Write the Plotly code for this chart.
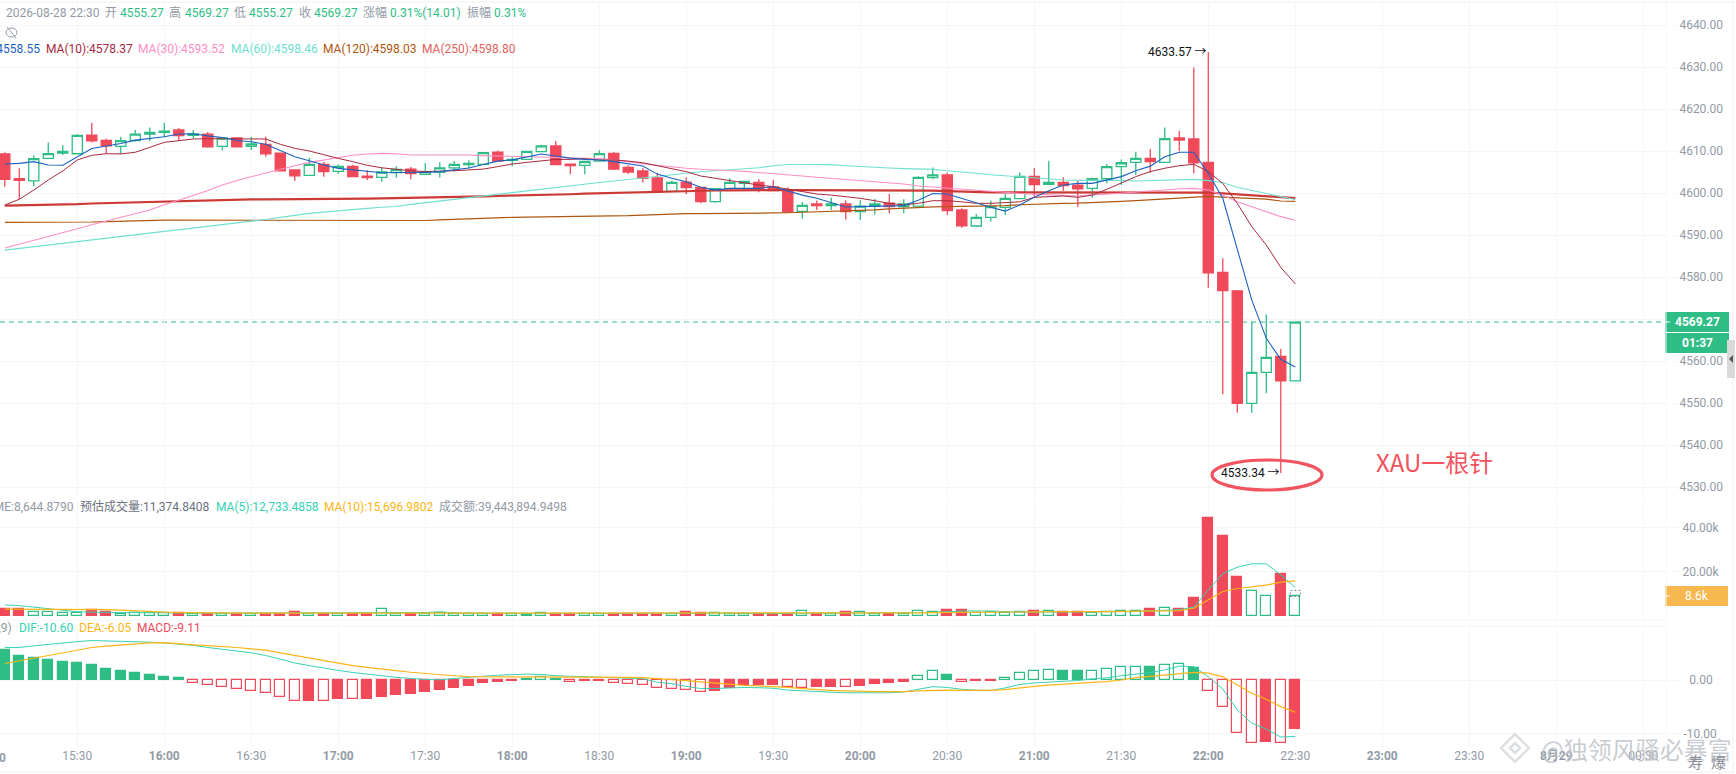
import pandas as pd
import plotly.graph_objects as go

# -----------------------------
# Chart values (one 5 min candle per entry, 15:05 to 22:30)
# -----------------------------
times = pd.date_range("2026-08-28 15:05", periods=90, freq="5min")

opens = [4609.3, 4603.4, 4602.9, 4608.25, 4609.5, 4609.35, 4613.8, 4612.55, 4611.1, 4612.5,
         4614.0, 4614.45, 4615.0, 4613.7, 4614.0, 4611.1, 4613.1, 4611.1, 4611.6, 4609.5,
         4605.5, 4604.2, 4606.8, 4605.16, 4606.35, 4604.0, 4603.7, 4604.85, 4605.7, 4604.45,
         4604.9, 4606.0, 4606.75, 4606.8, 4609.7, 4607.8, 4608.0, 4609.85, 4611.2, 4606.9,
         4606.6, 4607.6, 4609.45, 4606.1, 4605.24, 4603.57, 4600.4, 4602.6, 4601.35, 4597.94,
         4601.03, 4602.3, 4602.54, 4601.43, 4600.7, 4595.64, 4597.38, 4597.0, 4597.38, 4595.6,
         4596.9, 4597.6, 4596.75, 4596.9, 4603.65, 4604.3, 4595.95, 4592.14, 4594.2, 4596.6,
         4598.65, 4603.97, 4602.06, 4602.54, 4601.9, 4601.1, 4603.4, 4606.27, 4607.3, 4608.25,
         4607.3, 4613.1, 4612.86, 4607.3, 4581.1, 4576.67, 4549.9, 4557.3, 4561.1, 4555.27]
highs = [4609.7, 4605.9, 4609.0, 4612.0, 4611.35, 4614.0, 4616.7, 4612.9, 4613.4, 4615.0,
         4615.6, 4616.7, 4615.5, 4615.0, 4614.5, 4613.1, 4613.3, 4613.4, 4613.4, 4609.5,
         4605.6, 4608.4, 4607.4, 4606.8, 4606.7, 4605.4, 4605.95, 4606.4, 4606.2, 4607.15,
         4607.3, 4607.6, 4607.8, 4609.6, 4610.1, 4608.5, 4609.9, 4611.5, 4612.4, 4607.0,
         4607.7, 4610.2, 4609.75, 4606.6, 4605.9, 4604.85, 4602.9, 4603.7, 4601.35, 4601.03,
         4603.5, 4602.78, 4603.3, 4603.1, 4601.35, 4597.86, 4598.2, 4598.9, 4598.3, 4598.3,
         4598.65, 4599.76, 4598.5, 4604.0, 4606.1, 4604.9, 4596.35, 4595.0, 4598.2, 4599.75,
         4604.9, 4605.95, 4607.7, 4603.73, 4602.85, 4603.7, 4606.9, 4608.0, 4609.84, 4610.5,
         4615.6, 4614.76, 4629.9, 4633.57, 4584.45, 4576.9, 4569.37, 4571.1, 4562.85, 4569.27]
lows = [4601.5, 4598.5, 4601.6, 4608.2, 4609.05, 4609.35, 4612.0, 4609.4, 4609.2, 4612.2,
        4612.3, 4613.25, 4612.4, 4613.0, 4610.8, 4610.1, 4611.0, 4610.25, 4608.65, 4605.3,
        4602.9, 4604.2, 4603.9, 4604.5, 4603.9, 4603.1, 4602.7, 4603.65, 4603.3, 4604.45,
        4603.7, 4605.15, 4605.8, 4606.8, 4607.6, 4606.4, 4608.0, 4609.85, 4606.75, 4604.5,
        4604.45, 4607.5, 4605.5, 4604.5, 4602.5, 4600.3, 4600.4, 4599.7, 4597.54, 4597.7,
        4601.03, 4600.7, 4600.16, 4600.56, 4595.5, 4593.9, 4595.95, 4595.95, 4593.7, 4593.6,
        4594.9, 4595.16, 4595.16, 4596.9, 4603.25, 4594.76, 4591.7, 4591.9, 4593.2, 4594.76,
        4598.65, 4599.1, 4602.06, 4600.55, 4596.75, 4598.9, 4602.3, 4601.9, 4604.3, 4604.84,
        4607.3, 4610.0, 4604.68, 4577.46, 4552.1, 4547.7, 4547.7, 4552.3, 4533.34, 4555.27]
closes = [4603.25, 4603.0, 4608.2, 4609.4, 4609.9, 4613.7, 4612.4, 4611.2, 4612.45, 4614.0,
          4614.45, 4614.7, 4613.65, 4614.1, 4611.0, 4613.1, 4611.0, 4611.7, 4609.35, 4605.3,
          4604.1, 4606.8, 4605.1, 4606.35, 4603.9, 4603.65, 4605.0, 4605.6, 4604.6, 4605.1,
          4606.0, 4606.8, 4607.05, 4609.6, 4607.6, 4608.0, 4609.9, 4611.2, 4606.75, 4606.5,
          4607.5, 4609.4, 4605.7, 4605.0, 4603.5, 4600.3, 4602.54, 4601.27, 4597.94, 4601.03,
          4602.54, 4602.78, 4601.1, 4600.56, 4595.5, 4597.07, 4597.0, 4597.4, 4595.56, 4596.9,
          4597.4, 4596.75, 4597.38, 4603.7, 4604.3, 4595.8, 4592.2, 4594.2, 4596.75, 4598.7,
          4603.97, 4601.98, 4602.54, 4601.74, 4601.0, 4603.4, 4606.27, 4607.2, 4608.25, 4607.46,
          4612.94, 4612.6, 4607.2, 4581.0, 4576.75, 4549.9, 4557.3, 4560.87, 4555.3, 4569.27]

ma5 = [4606.9, 4607.06, 4607.46, 4606.66, 4606.6, 4608.65, 4610.6, 4611.2, 4611.8, 4612.6,
       4613.0, 4613.4, 4614.05, 4614.1, 4613.6, 4613.2, 4612.5, 4612.2, 4611.6, 4610.1,
       4608.65, 4607.7, 4606.67, 4605.87, 4605.5, 4605.1, 4604.84, 4604.9, 4604.9, 4604.9,
       4605.1, 4605.5, 4605.95, 4606.8, 4607.6, 4607.9, 4608.65, 4609.3, 4608.8, 4608.3,
       4608.0, 4607.86, 4607.46, 4606.9, 4606.43, 4604.5, 4603.5, 4602.7, 4601.35, 4600.7,
       4601.1, 4601.1, 4601.1, 4601.5, 4600.56, 4599.5, 4598.75, 4597.7, 4596.67, 4596.75,
       4596.83, 4596.9, 4597.0, 4598.3, 4599.9, 4599.76, 4598.65, 4597.7, 4596.6, 4595.7,
       4597.14, 4598.97, 4600.56, 4601.9, 4602.3, 4602.3, 4603.1, 4603.9, 4605.3, 4606.4,
       4608.65, 4609.7, 4609.7, 4604.7, 4598.73, 4586.4, 4574.5, 4565.4, 4560.4, 4558.55]
ma10 = [4597.14, 4598.5, 4600.7, 4603.1, 4605.25, 4607.86, 4608.97, 4609.36, 4609.3, 4609.7,
        4610.87, 4612.06, 4612.46, 4612.86, 4612.93, 4612.93, 4612.93, 4613.0, 4612.86, 4611.6,
        4610.63, 4610.0, 4609.05, 4608.25, 4607.46, 4606.6, 4606.0, 4605.56, 4605.3, 4605.1,
        4605.16, 4605.3, 4605.5, 4605.7, 4606.27, 4606.9, 4607.3, 4607.6, 4608.0, 4608.0,
        4608.17, 4607.86, 4607.86, 4607.6, 4607.2, 4606.5, 4605.7, 4605.08, 4604.05, 4603.5,
        4602.94, 4602.46, 4601.9, 4601.5, 4600.9, 4600.3, 4599.76, 4599.5, 4599.13, 4598.73,
        4598.17, 4597.54, 4597.15, 4597.54, 4598.17, 4598.17, 4597.9, 4597.54, 4597.54, 4597.7,
        4597.9, 4598.97, 4599.13, 4599.28, 4598.97, 4599.5, 4600.87, 4602.3, 4603.9, 4605.1,
        4605.9, 4606.5, 4606.84, 4605.08, 4602.3, 4597.54, 4592.0, 4587.6, 4582.3, 4578.37]
ma30 = [4586.9, 4587.8, 4588.65, 4589.6, 4590.55, 4591.5, 4592.45, 4593.3, 4594.2, 4595.1,
        4595.95, 4597.2, 4598.25, 4599.4, 4600.6, 4601.9, 4603.0, 4603.9, 4604.75, 4605.6,
        4606.5, 4607.3, 4607.85, 4608.4, 4609.0, 4609.3, 4609.44, 4609.36, 4609.05, 4609.05,
        4609.05, 4609.1, 4609.05, 4608.9, 4608.8, 4608.8, 4608.7, 4608.65, 4608.5, 4608.3,
        4608.25, 4608.2, 4607.9, 4607.4, 4607.0, 4606.6, 4606.2, 4605.9, 4605.65, 4605.4,
        4605.3, 4605.15, 4604.9, 4604.7, 4604.4, 4604.05, 4603.75, 4603.5, 4603.2, 4602.85,
        4602.6, 4602.4, 4602.15, 4601.67, 4601.4, 4601.2, 4600.95, 4600.7, 4600.4, 4600.15,
        4599.9, 4599.7, 4599.5, 4599.44, 4599.3, 4599.6, 4599.7, 4600.0, 4600.25, 4600.47,
        4600.7, 4601.0, 4601.1, 4600.7, 4599.5, 4597.94, 4596.75, 4595.56, 4594.37, 4593.52]
ma60 = [4586.4, 4586.8, 4587.2, 4587.6, 4588.0, 4588.5, 4588.9, 4589.3, 4589.6, 4590.0,
        4590.4, 4590.8, 4591.2, 4591.65, 4592.05, 4592.5, 4592.95, 4593.3, 4593.7, 4594.2,
        4594.7, 4595.15, 4595.45, 4595.8, 4596.1, 4596.35, 4596.6, 4596.8, 4597.3, 4597.7,
        4598.2, 4598.6, 4599.0, 4599.35, 4599.8, 4600.15, 4600.6, 4601.0, 4601.45, 4601.75,
        4602.15, 4602.5, 4602.85, 4603.25, 4603.65, 4604.05, 4604.35, 4604.75, 4605.07, 4605.3,
        4605.55, 4605.8, 4606.0, 4606.5, 4606.8, 4606.8, 4606.8, 4606.75, 4606.5, 4606.27,
        4606.1, 4605.95, 4605.8, 4605.7, 4605.63, 4605.3, 4605.07, 4604.7, 4604.35, 4604.1,
        4603.8, 4603.55, 4603.25, 4603.1, 4603.0, 4603.0, 4603.1, 4603.0, 4602.85, 4602.93,
        4603.0, 4603.17, 4603.25, 4602.94, 4602.46, 4601.35, 4600.7, 4599.9, 4599.13, 4598.46]
ma120 = [4593.0, 4593.0, 4593.0, 4593.0, 4593.0, 4593.0, 4593.1, 4593.2, 4593.3, 4593.4,
         4593.55, 4593.55, 4593.55, 4593.55, 4593.55, 4593.55, 4593.55, 4593.55, 4593.55, 4593.55,
         4593.55, 4593.5, 4593.45, 4593.4, 4593.4, 4593.4, 4593.4, 4593.4, 4593.4, 4593.45,
         4593.6, 4593.75, 4593.9, 4594.0, 4594.1, 4594.2, 4594.25, 4594.3, 4594.3, 4594.35,
         4594.4, 4594.4, 4594.45, 4594.6, 4594.75, 4594.9, 4595.0, 4595.1, 4595.1, 4595.1,
         4595.2, 4595.25, 4595.25, 4595.25, 4595.3, 4595.4, 4595.5, 4595.65, 4595.75, 4595.85,
         4596.0, 4596.2, 4596.4, 4596.6, 4596.7, 4596.75, 4596.8, 4596.85, 4596.9, 4597.0,
         4597.2, 4597.35, 4597.45, 4597.55, 4597.6, 4597.7, 4597.85, 4598.0, 4598.2, 4598.4,
         4598.6, 4598.85, 4599.1, 4599.2, 4599.0, 4598.85, 4598.7, 4598.55, 4598.1, 4598.03]
ma250 = [4597.0, 4597.05, 4597.1, 4597.15, 4597.2, 4597.35, 4597.5, 4597.6, 4597.7, 4597.8,
         4597.95, 4598.05, 4598.1, 4598.2, 4598.3, 4598.35, 4598.45, 4598.5, 4598.5, 4598.5,
         4598.5, 4598.5, 4598.5, 4598.55, 4598.6, 4598.65, 4598.7, 4598.75, 4598.85, 4598.9,
         4599.0, 4599.05, 4599.1, 4599.2, 4599.3, 4599.35, 4599.4, 4599.5, 4599.6, 4599.7,
         4599.85, 4599.95, 4600.0, 4600.1, 4600.15, 4600.3, 4600.45, 4600.5, 4600.55, 4600.6,
         4600.65, 4600.7, 4600.7, 4600.7, 4600.7, 4600.7, 4600.7, 4600.7, 4600.7, 4600.7,
         4600.7, 4600.7, 4600.7, 4600.7, 4600.55, 4600.45, 4600.3, 4600.2, 4600.15, 4600.15,
         4600.15, 4600.15, 4600.15, 4600.15, 4600.15, 4600.15, 4600.15, 4600.15, 4600.15, 4600.15,
         4600.2, 4600.2, 4600.2, 4600.1, 4599.9, 4599.7, 4599.5, 4599.3, 4599.0, 4598.8]

volume = [2880, 2880, 1500, 1500, 1060, 1060, 2575, 1500, 900, 1200,
          1200, 1200, 1200, 900, 900, 900, 900, 900, 900, 900,
          1650, 900, 900, 900, 900, 900, 2880, 900, 900, 900,
          1350, 900, 900, 900, 900, 750, 450, 1060, 900, 900,
          900, 900, 900, 600, 750, 750, 750, 1650, 1060, 1060,
          900, 900, 900, 750, 750, 1970, 900, 750, 1500, 1500,
          900, 900, 750, 2270, 1820, 2420, 2420, 1060, 1500, 1060,
          1500, 1970, 2270, 1650, 1820, 1060, 1650, 2270, 2270, 2880,
          3330, 3030, 8030, 44400, 36200, 17570, 11060, 8640, 18940, 8644.88]
vol_ma5 = [4800, 4500, 3800, 3200, 2300, 1700, 1500, 1400, 1400, 1300,
           1250, 1100, 1100, 1100, 1050, 1050, 1050, 1050, 1050, 1050,
           1100, 1100, 1100, 1100, 1050, 1050, 1350, 1350, 1350, 1350,
           1650, 1200, 1100, 1050, 1000, 950, 850, 850, 850, 850,
           950, 950, 950, 900, 850, 800, 750, 950, 1050, 1100,
           1150, 1100, 950, 850, 800, 1000, 1050, 1050, 1250, 1250,
           1250, 1200, 1050, 1300, 1500, 1850, 2000, 2100, 2050, 1800,
           1500, 1500, 1600, 1700, 1800, 1700, 1700, 1650, 1800, 2100,
           2400, 2650, 3790, 11660, 18940, 21970, 23480, 23480, 18480, 12733]
vol_ma10 = [2900, 2900, 2900, 2900, 2900, 2900, 2900, 2700, 2400, 2000,
            1700, 1500, 1350, 1250, 1150, 1100, 1050, 1050, 1050, 1050,
            1050, 1050, 1050, 1050, 1050, 1050, 1100, 1100, 1100, 1100,
            1150, 1150, 1150, 1150, 1150, 1100, 1000, 1000, 1000, 1000,
            1000, 1000, 950, 950, 950, 950, 950, 950, 950, 950,
            950, 950, 950, 950, 950, 950, 1000, 1000, 1000, 1000,
            1050, 1100, 1100, 1200, 1300, 1400, 1500, 1500, 1550, 1550,
            1600, 1650, 1750, 1750, 1800, 1800, 1800, 1850, 1900, 2000,
            2100, 2200, 3300, 7100, 10900, 12270, 13030, 13800, 15150, 15697]
est_volume = 11374.84

macd_hist = [5.56, 4.5, 4.1, 3.7, 3.3, 3.2, 2.75, 2.0, 1.6, 1.25,
             0.9, 0.5, 0.3, -0.5, -1.0, -1.4, -1.75, -2.1, -2.5, -3.25,
             -3.9, -3.85, -3.95, -3.5, -3.62, -3.5, -3.1, -2.75, -2.55, -2.2,
             -1.87, -1.45, -1.05, -0.5, -0.3, -0.2, 0.25, 0.5, 0.25, -0.3,
             -0.25, -0.1, -0.5, -0.7, -1.0, -1.55, -1.75, -1.8, -2.2, -2.05,
             -1.55, -1.0, -0.95, -0.9, -1.4, -1.42, -1.38, -1.3, -1.35, -1.05,
             -0.7, -0.5, -0.3, 0.8, 1.65, 0.9, -0.3, -0.25, -0.2, 0.3,
             1.25, 1.65, 1.8, 1.75, 1.6, 1.62, 2.0, 2.4, 2.42, 2.38,
             2.75, 3.0, 2.25, -2.0, -5.0, -10.0, -11.75, -11.7, -11.8, -9.11]
dif = [6.1, 6.1, 6.4, 6.7, 6.95, 7.2, 7.4, 7.35, 7.2, 7.15,
       7.1, 6.95, 6.75, 6.5, 6.1, 5.75, 5.4, 5.1, 4.6, 3.9,
       3.2, 2.7, 2.2, 1.8, 1.4, 1.05, 0.8, 0.5, 0.25, 0.1,
       0.05, 0.3, 0.55, 0.7, 0.9, 1.05, 1.1, 1.05, 0.8, 0.7,
       0.6, 0.5, 0.4, 0.35, 0.25, -0.4, -0.7, -1.2, -1.6, -1.6,
       -1.5, -1.4, -1.45, -1.55, -1.9, -2.05, -2.2, -2.3, -2.4, -2.4,
       -2.4, -2.4, -2.25, -1.75, -1.25, -1.4, -1.75, -1.9, -1.95, -1.5,
       -0.85, -0.55, -0.4, -0.25, -0.1, 0.2, 0.4, 0.8, 1.05, 1.4,
       1.9, 2.6, 2.5, 0.6, -1.7, -5.6, -8.1, -9.2, -10.7, -10.6]
dea = [3.1, 3.6, 4.1, 4.7, 5.2, 5.7, 6.1, 6.35, 6.55, 6.75,
       6.95, 7.0, 6.75, 6.6, 6.45, 6.3, 6.1, 5.85, 5.6, 5.1,
       4.6, 4.1, 3.6, 3.1, 2.7, 2.35, 2.0, 1.75, 1.45, 1.2,
       1.0, 0.8, 0.65, 0.6, 0.6, 0.6, 0.6, 0.6, 0.6, 0.6,
       0.6, 0.6, 0.55, 0.5, 0.45, 0.3, 0.1, -0.1, -0.35, -0.6,
       -0.8, -1.0, -1.1, -1.2, -1.4, -1.6, -1.8, -1.95, -2.05, -2.15,
       -2.2, -2.2, -2.2, -2.05, -1.95, -1.9, -1.95, -1.95, -1.95, -1.8,
       -1.45, -1.2, -0.95, -0.75, -0.6, -0.45, -0.3, 0.0, 0.45, 0.7,
       1.0, 1.3, 1.44, 1.3, 0.6, -0.94, -2.5, -3.6, -5.0, -6.05]

tick_times = ["2026-08-28 15:30", "2026-08-28 16:00", "2026-08-28 16:30", "2026-08-28 17:00",
              "2026-08-28 17:30", "2026-08-28 18:00", "2026-08-28 18:30", "2026-08-28 19:00",
              "2026-08-28 19:30", "2026-08-28 20:00", "2026-08-28 20:30", "2026-08-28 21:00",
              "2026-08-28 21:30", "2026-08-28 22:00", "2026-08-28 22:30", "2026-08-28 23:00",
              "2026-08-28 23:30", "2026-08-29 00:00", "2026-08-29 00:30"]
tick_labels = ["15:30", "<b>16:00</b>", "16:30", "<b>17:00</b>", "17:30", "<b>18:00</b>", "18:30",
               "<b>19:00</b>", "19:30", "<b>20:00</b>", "20:30", "<b>21:00</b>", "21:30",
               "<b>22:00</b>", "22:30", "<b>23:00</b>", "23:30", "<b>8月29</b>", "00:30"]

# -----------------------------
# Styles and helpers
# -----------------------------
W, H = 1736, 774
PLOT_W = 1666
RED = "#F04A5A"
GREEN = "#2EBD85"
GREY = "#929AA5"
GRID = "#F5F6F7"
ORANGE = "#FDB515"
TEAL = "#36D1B5"
FONT = "Roboto, 'Noto Sans CJK SC', sans-serif"
BAR_MS = 5 * 60 * 1000 * 0.7


def px_x(v):
    return v / W


def px_y(v):
    return 1 - v / H


def label(x, y, text, color=GREY, size=12, anchor="left", family=FONT):
    return dict(xref="paper", yref="paper", x=px_x(x), y=px_y(y), text=text, showarrow=False,
                xanchor=anchor, yanchor="middle", borderpad=0, borderwidth=0,
                font=dict(family=family, size=size, color=color))


def box(x0, y0, x1, y1, fill):
    return dict(type="rect", xref="paper", yref="paper", x0=px_x(x0), x1=px_x(x1),
                y0=px_y(y0), y1=px_y(y1), fillcolor=fill, line=dict(width=0))


def rule(x0, y0, x1, y1, color="#EFEFF0", width=1):
    return dict(type="line", xref="paper", yref="paper", x0=px_x(x0), x1=px_x(x1),
                y0=px_y(y0), y1=px_y(y1), line=dict(color=color, width=width))


def diamond(cx, cy, r, color, width=2.5):
    path = (f"M {px_x(cx - r)} {px_y(cy)} L {px_x(cx)} {px_y(cy - r)} "
            f"L {px_x(cx + r)} {px_y(cy)} L {px_x(cx)} {px_y(cy + r)} Z")
    return dict(type="path", xref="paper", yref="paper", path=path, line=dict(color=color, width=width))


# -----------------------------
# Traces
# -----------------------------
fig = go.Figure()

fig.add_trace(go.Candlestick(
    x=times, open=opens, high=highs, low=lows, close=closes,
    increasing=dict(line=dict(color=GREEN, width=1.3), fillcolor="white"),
    decreasing=dict(line=dict(color=RED, width=1.3), fillcolor=RED),
    xaxis="x", yaxis="y", showlegend=False,
))

ma_lines = [
    (ma250, "#CD3A35", 2.2),
    (ma120, "#B0560F", 1.2),
    (ma60, "#6FE0CF", 1.1),
    (ma30, "#FF8EC6", 1.1),
    (ma10, "#A72B3E", 1.0),
    (ma5, "#1B62C0", 1.1),
]
for values, color, width in ma_lines:
    fig.add_trace(go.Scatter(x=times, y=values, mode="lines", line=dict(color=color, width=width),
                             xaxis="x", yaxis="y", showlegend=False))

vol_up = [c >= o for o, c in zip(opens, closes)]
fig.add_trace(go.Bar(
    x=times, y=volume, width=BAR_MS,
    marker=dict(color=["white" if up else RED for up in vol_up],
                line=dict(color=[GREEN if up else RED for up in vol_up], width=1.2)),
    xaxis="x2", yaxis="y2", showlegend=False,
))
fig.add_trace(go.Scatter(x=times, y=vol_ma5, mode="lines", line=dict(color=TEAL, width=1.0),
                         xaxis="x2", yaxis="y2", showlegend=False))
fig.add_trace(go.Scatter(x=times, y=vol_ma10, mode="lines", line=dict(color=ORANGE, width=1.2),
                         xaxis="x2", yaxis="y2", showlegend=False))

# hollow bar while the histogram moves away from zero or crosses it, filled while it shrinks
macd_hollow = [i > 0 and (abs(v) > abs(macd_hist[i - 1]) or v * macd_hist[i - 1] < 0)
               for i, v in enumerate(macd_hist)]
fig.add_trace(go.Bar(
    x=times, y=macd_hist, width=BAR_MS,
    marker=dict(
        color=["white" if h else (GREEN if v > 0 else RED) for h, v in zip(macd_hollow, macd_hist)],
        line=dict(color=[GREEN if v > 0 else RED for v in macd_hist], width=1.2)),
    xaxis="x3", yaxis="y3", showlegend=False,
))
fig.add_trace(go.Scatter(x=times, y=dif, mode="lines", line=dict(color=TEAL, width=1.0),
                         xaxis="x3", yaxis="y3", showlegend=False))
fig.add_trace(go.Scatter(x=times, y=dea, mode="lines", line=dict(color=ORANGE, width=1.2),
                         xaxis="x3", yaxis="y3", showlegend=False))

# -----------------------------
# Axes
# -----------------------------
x_range = ["2026-08-28 15:03:21", "2026-08-29 00:37:50"]
x_common = dict(type="date", range=x_range, domain=[0, PLOT_W / W], tickmode="array",
                tickvals=tick_times, ticktext=tick_labels, showgrid=True, gridcolor=GRID,
                gridwidth=1, zeroline=False, showline=False, ticks="", fixedrange=True)
y_common = dict(side="right", showgrid=True, gridcolor=GRID, gridwidth=1, zeroline=False,
                showline=False, ticks="outside", tickcolor=GRID, fixedrange=True,
                tickfont=dict(family=FONT, size=12, color=GREY))

fig.update_layout(
    width=W, height=H, margin=dict(l=0, r=0, t=0, b=0, pad=0, autoexpand=False),
    paper_bgcolor="white", plot_bgcolor="white", showlegend=False,
    boxgap=0.3, boxgroupgap=0, bargap=0, hovermode=False, barmode="overlay",
    font=dict(family=FONT, size=12, color=GREY),
    xaxis=dict(x_common, anchor="y", showticklabels=False, rangeslider=dict(visible=False)),
    xaxis2=dict(x_common, anchor="y2", showticklabels=False),
    xaxis3=dict(x_common, anchor="y3", showticklabels=True,
                tickfont=dict(family=FONT, size=12, color=GREY)),
    yaxis=dict(y_common, anchor="x", domain=[px_y(497), px_y(3)], range=[4527.62, 4645.24],
               tickmode="array", tickvals=list(range(4530, 4650, 10)),
               ticktext=[f"{v}.00" for v in range(4530, 4650, 10)], ticklen=10),
    yaxis2=dict(y_common, anchor="x2", domain=[px_y(620), px_y(498)], range=[-2045, 53409],
                tickmode="array", tickvals=[20000, 40000], ticktext=["20.00k", "40.00k"], ticklen=13),
    yaxis3=dict(y_common, anchor="x3", domain=[px_y(747), px_y(626)], range=[-12.57, 10.13],
                tickmode="array", tickvals=[-10, 0], ticktext=["-10.00", "\u00a0\u00a00.00"], ticklen=14),
)

# -----------------------------
# Shapes: last price line, dashed estimate box, circle, tags, frame
# -----------------------------
last_t = times[-1]
half_bar = pd.Timedelta(milliseconds=BAR_MS / 2)
shapes = [
    dict(type="line", xref="paper", yref="y", x0=0, x1=PLOT_W / W, y0=closes[-1], y1=closes[-1],
         layer="below", line=dict(color=GREEN, width=1, dash="5px,4px")),
    dict(type="rect", xref="x2", yref="y2", x0=last_t - half_bar, x1=last_t + half_bar,
         y0=volume[-1], y1=est_volume, line=dict(color="#666666", width=0.8, dash="2px,2px")),
    dict(type="circle", xref="paper", yref="paper", x0=px_x(1212), x1=px_x(1322),
         y0=px_y(460), y1=px_y(490), line=dict(color="#F2545F", width=3.2)),
    box(1665, 312, 1729, 332, GREEN),
    box(1665, 333, 1729, 353, GREEN),
    box(1665, 586, 1728, 606, "#F6B84F"),
    rule(1665, 322, 1670, 322, "white"),
    rule(1665, 596, 1670, 596, "white"),
    rule(PLOT_W, 0, PLOT_W, 747, GRID),
    rule(0, 620, PLOT_W, 620, GRID),
    rule(0, 626, PLOT_W, 626, GRID),
    rule(0, 2, 1733, 2),
    rule(0, 772, 1733, 772),
    rule(1733, 0, 1733, H),
    dict(type="rect", xref="paper", yref="paper", x0=px_x(1727), x1=px_x(1735), y0=px_y(378),
         y1=px_y(340), fillcolor="#D9D9D9", line=dict(width=0)),
    dict(type="path", xref="paper", yref="paper", fillcolor="#555555", line=dict(width=0),
         path=f"M {px_x(1729)} {px_y(359)} L {px_x(1733)} {px_y(355)} L {px_x(1733)} {px_y(363)} Z"),
    dict(type="circle", xref="paper", yref="paper", x0=px_x(6), x1=px_x(17), y0=px_y(37), y1=px_y(28),
         line=dict(color=GREY, width=1)),
    rule(7, 27, 16, 38, GREY),
    diamond(1515, 748, 14, "#DDE0E3"),
    diamond(1515, 748, 5, "#DDE0E3"),
]
fig.update_layout(shapes=shapes)

# -----------------------------
# Text
# -----------------------------
annotations = [
    label(6, 13, "2026-08-28 22:30"),
    label(105, 13, "开"), label(120, 13, "4555.27", GREEN),
    label(169, 13, "高"), label(185, 13, "4569.27", GREEN),
    label(234, 13, "低"), label(249, 13, "4555.27", GREEN),
    label(298.5, 13, "收"), label(313.5, 13, "4569.27", GREEN),
    label(363, 13, "涨幅"), label(390, 13, "0.31%(14.01)", GREEN),
    label(466.6, 13, "振幅"), label(493.5, 13, "0.31%", GREEN),

    label(40, 49, "MA(5):4558.55", "#1B62C0", anchor="right"),
    label(45.5, 49, "MA(10):4578.37", "#A72B3E"),
    label(138.4, 49, "MA(30):4593.52", "#FF8EC6"),
    label(230.5, 49, "MA(60):4598.46", "#6FE0CF"),
    label(323, 49, "MA(120):4598.03", "#B0560F"),
    label(422.3, 49, "MA(250):4598.80", "#E0625A"),

    label(74, 506.7, "VOLUME:8,644.8790", anchor="right"),
    label(80, 506.7, "预估成交量:11,374.8408", "#6B7280"),
    label(215.5, 506.7, "MA(5):12,733.4858", TEAL),
    label(323.5, 506.7, "MA(10):15,696.9802", ORANGE),
    label(439, 506.7, "成交额:39,443,894.9498"),

    label(12, 628.3, "MACD(12,26,9)", anchor="right"),
    label(19, 628.3, "DIF:-10.60", TEAL),
    label(79, 628.3, "DEA:-6.05", ORANGE),
    label(137, 628.3, "MACD:-9.11", RED),

    label(-10, 757.7, "<b>15:00</b>", anchor="center"),

    label(1697, 322, "<b>4569.27</b>", "white", anchor="center"),
    label(1697, 343, "<b>01:37</b>", "white", anchor="center"),
    label(1697, 596, "8.6k", "white", anchor="center"),

    label(1376, 461, "XAU一根针", "#F2545F", size=24,
          family="'Noto Sans CJK SC', 'Noto Sans', sans-serif"),

    label(1541, 748, "@独领风骚必暴富", "rgba(190,195,200,0.85)", size=24,
          family="'Noto Sans CJK SC', sans-serif"),
    label(1695, 761, "寿", "#8A8F96", size=15, anchor="center",
          family="'Noto Sans CJK SC', sans-serif"),
    label(1718, 761, "爆", "#8A8F96", size=15, anchor="center",
          family="'Noto Sans CJK SC', sans-serif"),

    dict(xref="x", yref="y", x=times[83], y=highs[83], text="4633.57 →", showarrow=False,
         xanchor="right", yanchor="middle", xshift=-1, borderpad=0, borderwidth=0,
         font=dict(family=FONT, size=12, color="#111111")),
    dict(xref="x", yref="y", x=times[88], y=lows[88], text="4533.34 →", showarrow=False,
         xanchor="right", yanchor="middle", xshift=-1, borderpad=0, borderwidth=0,
         font=dict(family=FONT, size=12, color="#111111")),
]
fig.update_layout(annotations=annotations)

# the page's default 8px body margin would shift the whole chart
fig.write_html("out.html", config={"displayModeBar": False},
               post_script="document.body.style.margin = '0';")
